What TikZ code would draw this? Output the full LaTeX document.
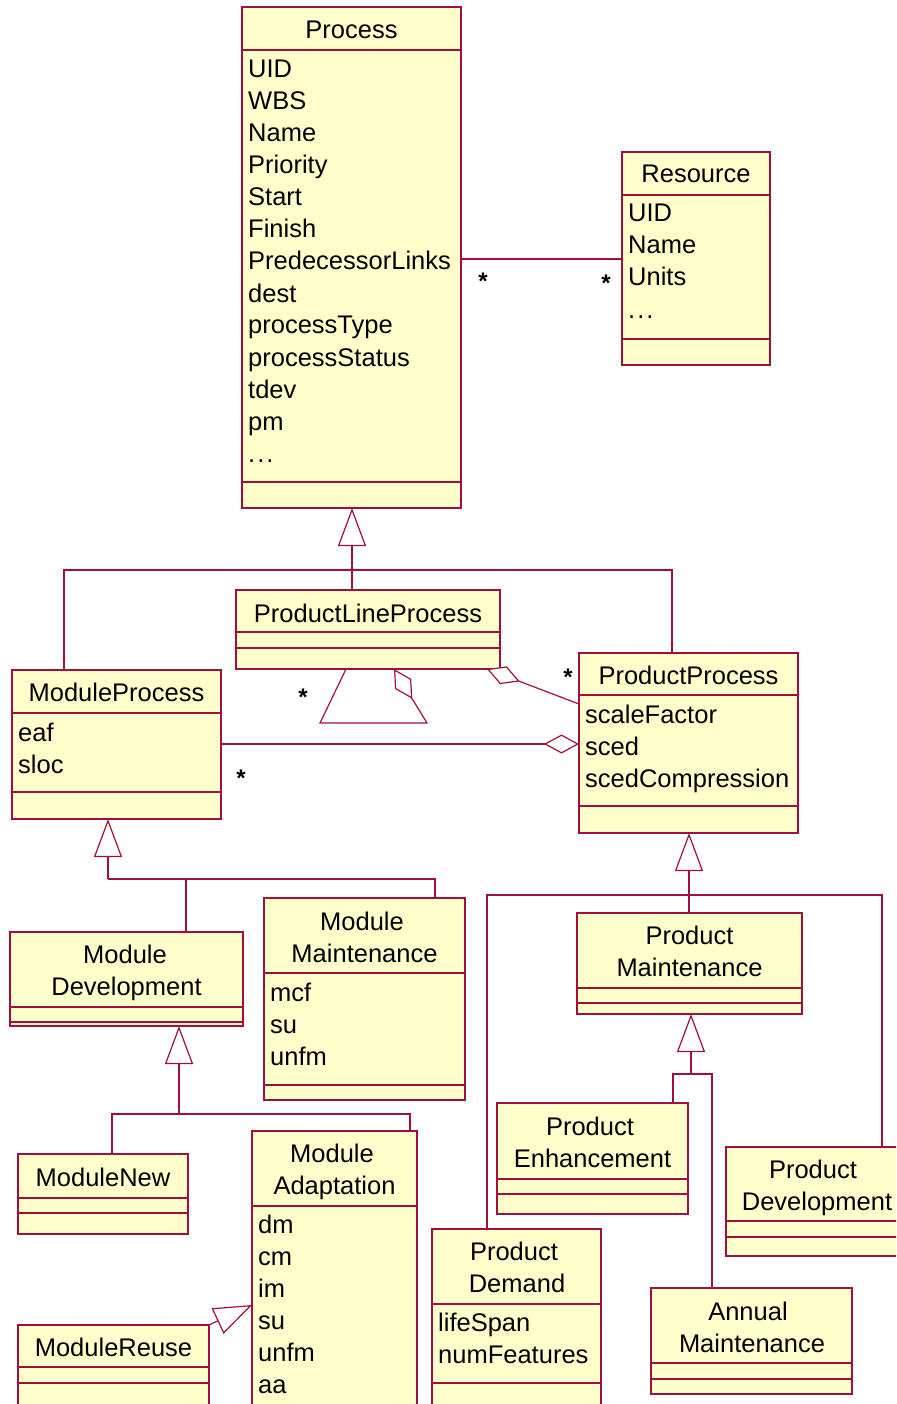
\documentclass[tikz,border=0pt]{standalone}
\usepackage{fontspec}
\setmainfont{Liberation Sans}
\usetikzlibrary{arrows.meta}
\definecolor{umlfill}{HTML}{FFFFCC}
\definecolor{umlline}{HTML}{9E1040}

\tikzset{
  classbox/.style={draw=umlline, fill=umlfill, line width=1.3pt, rectangle, inner sep=0pt, outer sep=0pt},
  sepline/.style={draw=umlline, line width=1.2pt},
  conn/.style={draw=umlline, line width=1.2pt},
  gen/.style={conn, -{Triangle[length=38pt,width=28pt,fill=white]}},
  agg/.style={conn, -{Diamond[length=35pt,width=19pt,fill=white]}},
  ctitle/.style={font=\fontsize{25.5}{32}\selectfont, anchor=base, inner sep=0pt},
  cattr/.style={font=\fontsize{25.5}{32}\selectfont, anchor=base west, inner sep=0pt},
  mult/.style={font=\fontsize{24}{24}\selectfont\bfseries, anchor=base, inner sep=0pt},
}

% the trailing "more attributes" entry
\newcommand\moreattrs{.\kern2pt.\kern2pt.}

% class rectangle with its compartment separators
\newcommand\umlclass[6]{%
  \node[classbox, anchor=north west, minimum width={(#4)-(#2)}, minimum height={(#5)-(#3)}] (#1) at (#2,#3) {};
  \foreach \yy in {#6} {\draw[sepline] (#2,\yy) -- (#4,\yy);}
}
% attribute lines, 32 units apart
\newcommand\umlattrs[4]{%
  \foreach \txt [count=\k] in {#4} {\node[cattr] (#1-a\k) at ({#2},{#3+32*(\k-1)}) {\txt};}
}

\begin{document}
\begin{tikzpicture}[x=1pt,y=-1pt]
\useasboundingbox (0,0) rectangle (896,1404);
\clip (0,0) rectangle (896,1404);

% ---------- classes ----------
\umlclass{proc}{242}{7}{461}{508}{50,482}
\node[ctitle] (proc-t) at (351.5,39) {Process};
\umlattrs{proc}{248}{78}{UID,WBS,Name,Priority,Start,Finish,PredecessorLinks,dest,processType,processStatus,tdev,pm,\moreattrs}

\umlclass{res}{622}{152}{770}{365}{195,339}
\node[ctitle] (res-t) at (696,183) {Resource};
\umlattrs{res}{628}{222}{UID,Name,Units,\moreattrs}

\umlclass{pl}{236}{590}{500}{669}{632,648}
\node[ctitle] (pl-t) at (368,622) {ProductLineProcess};

\umlclass{mp}{12}{670}{221}{819}{713,792}
\node[ctitle] (mp-t) at (116.5,701) {ModuleProcess};
\umlattrs{mp}{18}{741}{eaf,sloc}

\umlclass{pp}{579}{653}{798}{833}{695,806}
\node[ctitle] (pp-t) at (688.5,684) {ProductProcess};
\umlattrs{pp}{585}{723}{scaleFactor,sced,scedCompression}

\umlclass{md}{10}{932}{243}{1026}{1007,1022}
\node[ctitle] (md-t1) at (125,963) {Module};
\node[ctitle] (md-t2) at (126.5,995) {Development};

\umlclass{mm}{264}{898}{465}{1100}{973,1085}
\node[ctitle] (mm-t1) at (362,930) {Module};
\node[ctitle] (mm-t2) at (364.5,962) {Maintenance};
\umlattrs{mm}{270}{1001}{mcf,su,unfm}

\umlclass{mn}{18}{1154}{188}{1234}{1198,1213}
\node[ctitle] (mn-t) at (103,1186) {ModuleNew};

\umlclass{ma}{252}{1131}{417}{1440}{1206}
\node[ctitle] (ma-t1) at (332,1162) {Module};
\node[ctitle] (ma-t2) at (334.5,1194) {Adaptation};
\umlattrs{ma}{258}{1233}{dm,cm,im,su,unfm,aa}

\umlclass{mr}{18}{1325}{209}{1440}{1367,1383}
\node[ctitle] (mr-t) at (113.5,1356) {ModuleReuse};

\umlclass{pmn}{577}{913}{802}{1014}{988,1003}
\node[ctitle] (pmn-t1) at (689.5,944) {Product};
\node[ctitle] (pmn-t2) at (689.5,976) {Maintenance};

\umlclass{pe}{497}{1103}{688}{1214}{1179,1194}
\node[ctitle] (pe-t1) at (590,1135) {Product};
\node[ctitle] (pe-t2) at (592.5,1167) {Enhancement};

\umlclass{pdv}{726}{1147}{904}{1256}{1221,1237}
\node[ctitle] (pdv-t1) at (813,1178) {Product};
\node[ctitle] (pdv-t2) at (817,1210) {Development};

\umlclass{pd}{432}{1229}{601}{1440}{1304,1383}
\node[ctitle] (pd-t1) at (514,1260) {Product};
\node[ctitle] (pd-t2) at (517,1292) {Demand};
\umlattrs{pd}{438}{1331}{lifeSpan,numFeatures}

\umlclass{am}{651}{1288}{852}{1394}{1363,1379}
\node[ctitle] (am-t1) at (748,1320) {Annual};
\node[ctitle] (am-t2) at (752,1352) {Maintenance};

% ---------- association Process -- Resource ----------
\coordinate (as1) at (541,259);
\draw[conn] (as1 -| proc.east) -- (as1 -| res.west);
\node[mult] (m1) at (483,290) {*};
\node[mult] (m2) at (606,292) {*};

% ---------- generalization: Process ----------
\coordinate (j1) at (352,570);
\coordinate (j1l) at (64,570);
\coordinate (j1r) at (672,570);
\draw[gen] (j1 |- pl.north) -- (j1 |- proc.south);
\draw[conn] (j1l |- mp.north) -- (j1l) -- (j1r) -- (j1r |- pp.north);

% ---------- generalization: ModuleProcess ----------
\coordinate (j2) at (108,879);
\coordinate (j2m) at (186,879);
\coordinate (j2r) at (435,879);
\draw[gen] (j2) -- (j2 |- mp.south);
\draw[conn] (j2) -- (j2r) -- (j2r |- mm.north);
\draw[conn] (j2m) -- (j2m |- md.north);

% ---------- generalization: ModuleDevelopment ----------
\coordinate (j3) at (179,1114);
\coordinate (j3l) at (112,1114);
\coordinate (j3r) at (410,1114);
\draw[gen] (j3) -- (j3 |- md.south);
\draw[conn] (j3l |- mn.north) -- (j3l) -- (j3r) -- (j3r |- ma.north);

% ---------- generalization: ModuleAdaptation ----------
\coordinate (j4) at (0,1305);
\draw[gen] (mr.north east) -- (j4 -| ma.west);

% ---------- generalization: ProductProcess ----------
\coordinate (j5) at (689,895);
\coordinate (j5l) at (487,895);
\coordinate (j5r) at (882,895);
\draw[gen] (j5 |- pmn.north) -- (j5 |- pp.south);
\draw[conn] (j5l |- pd.north) -- (j5l) -- (j5r) -- (j5r |- pdv.north);

% ---------- generalization: ProductMaintenance ----------
\coordinate (j6) at (691,1074);
\coordinate (j6l) at (673,1074);
\coordinate (j6r) at (712,1074);
\draw[gen] (j6) -- (j6 |- pmn.south);
\draw[conn] (j6l |- pe.north) -- (j6l) -- (j6r) -- (j6r |- am.north);

% ---------- aggregations ----------
\coordinate (k1) at (400,744);
\draw[agg] (k1 -| mp.east) -- (k1 -| pp.west);
\node[mult] (m5) at (241,786) {*};

\coordinate (k2) at (540,704);
\coordinate (k2e) at (487,700);
\draw[agg] (k2 -| pp.west) -- (k2e |- pl.south);
\node[mult] (m3) at (568,685) {*};

\coordinate (k3a) at (346,700);
\coordinate (k3b) at (320,723);
\coordinate (k3c) at (427,723);
\coordinate (k3d) at (394,700);
\draw[agg] (k3a |- pl.south) -- (k3b) -- (k3c) -- (k3d |- pl.south);
\node[mult] (m4) at (303,705) {*};

\end{tikzpicture}
\end{document}
